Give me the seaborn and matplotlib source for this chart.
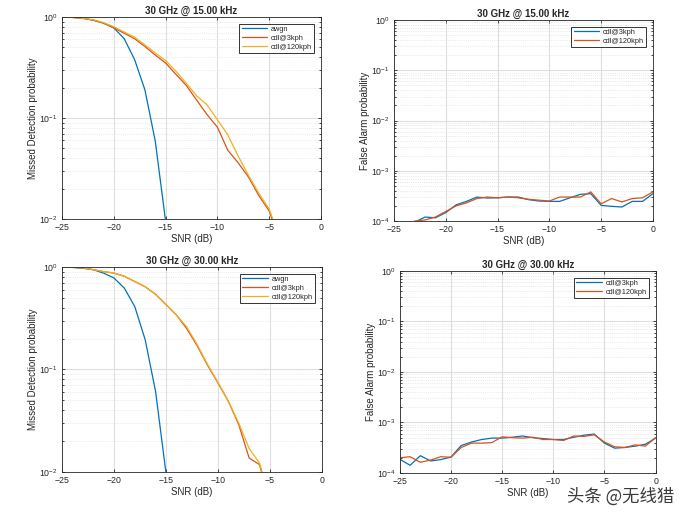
import numpy as np
import pandas as pd
import matplotlib
matplotlib.use("Agg")
import matplotlib.pyplot as plt
import seaborn as sns

# SNR axis (dB)
snr = list(range(-25, 1))

# Missed detection, 15 kHz
md15_snr = list(range(-25, -3))
md15_awgn = [1.0, 0.99, 0.97, 0.93, 0.87, 0.78, 0.61, 0.38, 0.19, 0.059, 0.0095,
             None, None, None, None, None, None, None, None, None, None, None]
md15_3kph = [1.0, 0.99, 0.97, 0.93, 0.87, 0.78, 0.69, 0.61, 0.51, 0.42, 0.35,
             0.27, 0.21, 0.15, 0.108, 0.081, 0.048, 0.036, 0.026, 0.017, 0.012, 0.006]
md15_120kph = [1.0, 0.99, 0.97, 0.94, 0.88, 0.80, 0.71, 0.63, 0.53, 0.44, 0.37,
               0.29, 0.22, 0.165, 0.135, 0.096, 0.068, 0.042, 0.027, 0.018, 0.0125, 0.0065]

# Missed detection, 30 kHz
md30_snr = list(range(-25, -4))
md30_awgn = [1.0, 0.99, 0.97, 0.94, 0.87, 0.78, 0.62, 0.41, 0.195, 0.061, 0.0098,
             None, None, None, None, None, None, None, None, None, None]
md30_3kph = [1.0, 0.99, 0.98, 0.94, 0.90, 0.87, 0.81, 0.72, 0.64, 0.54, 0.43,
             0.34, 0.25, 0.17, 0.11, 0.074, 0.049, 0.029, 0.0137, 0.0118, 0.005]
md30_120kph = [1.0, 0.99, 0.98, 0.94, 0.90, 0.87, 0.81, 0.72, 0.64, 0.54, 0.43,
               0.34, 0.26, 0.175, 0.112, 0.075, 0.049, 0.03, 0.017, 0.0122, 0.0055]

# False alarm, 15 kHz
fa15_3kph = [7e-5, 8e-5, 9.5e-5, 1.2e-4, 1.16e-4, 1.47e-4, 2.1e-4, 2.46e-4, 3.0e-4,
             2.87e-4, 2.9e-4, 3.0e-4, 3.0e-4, 2.66e-4, 2.5e-4, 2.46e-4, 2.46e-4,
             2.9e-4, 3.4e-4, 3.5e-4, 2.05e-4, 1.96e-4, 1.9e-4, 2.46e-4, 2.46e-4, 3.5e-4]
fa15_120kph = [6e-5, 7e-5, 1.0e-4, 1.05e-4, 1.2e-4, 1.55e-4, 2.0e-4, 2.3e-4, 2.8e-4,
               3.0e-4, 2.9e-4, 3.0e-4, 2.9e-4, 2.7e-4, 2.6e-4, 2.5e-4, 3.0e-4,
               3.0e-4, 3.0e-4, 3.8e-4, 2.2e-4, 2.8e-4, 2.4e-4, 2.8e-4, 2.9e-4, 3.8e-4]

# False alarm, 30 kHz
fa30_3kph = [1.87e-4, 1.42e-4, 2.2e-4, 1.73e-4, 1.84e-4, 2.07e-4, 3.5e-4, 4.1e-4, 4.6e-4,
             4.9e-4, 4.9e-4, 5.1e-4, 5.4e-4, 5.0e-4, 4.8e-4, 4.6e-4, 4.6e-4,
             5.1e-4, 5.6e-4, 5.9e-4, 3.9e-4, 3.1e-4, 3.2e-4, 3.4e-4, 3.7e-4, 4.9e-4]
fa30_120kph = [2.0e-4, 2.1e-4, 1.63e-4, 1.8e-4, 2.1e-4, 2.05e-4, 3.2e-4, 3.9e-4, 3.9e-4,
               4.0e-4, 5.2e-4, 5.0e-4, 4.9e-4, 5.1e-4, 4.6e-4, 4.6e-4, 4.4e-4,
               5.4e-4, 5.3e-4, 5.7e-4, 4.1e-4, 3.3e-4, 3.2e-4, 3.6e-4, 3.4e-4, 5.0e-4]

blue, orange, yellow = "#0072BD", "#D95319", "#EDB120"

sns.set_style("ticks")
plt.rcParams["font.family"] = ["Liberation Sans", "DejaVu Sans"]
plt.rcParams["mathtext.fontset"] = "custom"
plt.rcParams["mathtext.rm"] = "Liberation Sans"

fig = plt.figure(figsize=(6.93, 5.14), dpi=100)


def long_df(x, series):
    rows = []
    for name, vals in series.items():
        for xi, v in zip(x, vals):
            if v is not None:
                rows.append({"snr": xi, "p": v, "series": name})
    return pd.DataFrame(rows)


def panel(rect, x, series, colors, title, ylabel, ylim):
    ax = fig.add_axes(rect)
    df = long_df(x, series)
    sns.lineplot(data=df, x="snr", y="p", hue="series", palette=colors,
                 linewidth=0.9, ax=ax)
    ax.set_yscale("log")
    ax.set_xlim(-25, 0)
    ax.set_ylim(*ylim)
    ax.set_xticks([-25, -20, -15, -10, -5, 0])
    ax.grid(True, which="major", color="#dedede", linewidth=0.8)
    ax.grid(True, which="minor", color="#d9d9d9", linewidth=0.5, linestyle=":")
    ax.tick_params(which="both", direction="in", top=True, right=True,
                   labelsize=6.3, length=2.5, width=0.6)
    ax.tick_params(axis="x", pad=3)
    ax.tick_params(axis="y", pad=3)
    ax.tick_params(which="minor", length=1.5)
    for s in ax.spines.values():
        s.set_linewidth(0.6)
        s.set_color("#262626")
    ax.set_title(title, fontsize=7, fontweight="bold", pad=2)
    ax.set_xlabel("SNR (dB)", fontsize=7, labelpad=1)
    ax.set_ylabel(ylabel, fontsize=7, labelpad=1)
    leg = ax.legend(loc="upper right", fontsize=5.3, frameon=True, fancybox=False,
                    handlelength=3.5, borderpad=0.3, labelspacing=0.25,
                    handletextpad=0.5, borderaxespad=0.9)
    leg.get_frame().set_edgecolor("black")
    leg.get_frame().set_linewidth(0.7)
    return ax


panel([0.0895, 0.574, 0.3737, 0.393], md15_snr,
      {"awgn": md15_awgn, "cdl@3kph": md15_3kph, "cdl@120kph": md15_120kph},
      [blue, orange, yellow], "30 GHz @ 15.00 kHz",
      "Missed Detection probability", (1e-2, 1))

panel([0.5685, 0.570, 0.3737, 0.391], snr,
      {"cdl@3kph": fa15_3kph, "cdl@120kph": fa15_120kph},
      [blue, orange], "30 GHz @ 15.00 kHz",
      "False Alarm probability", (1e-4, 1))

panel([0.0895, 0.0817, 0.375, 0.399], md30_snr,
      {"awgn": md30_awgn, "cdl@3kph": md30_3kph, "cdl@120kph": md30_120kph},
      [blue, orange, yellow], "30 GHz @ 30.00 kHz",
      "Missed Detection probability", (1e-2, 1))

panel([0.577, 0.0798, 0.369, 0.393], snr,
      {"cdl@3kph": fa30_3kph, "cdl@120kph": fa30_120kph},
      [blue, orange], "30 GHz @ 30.00 kHz",
      "False Alarm probability", (1e-4, 1))

fig.text(0.818, 0.033, "头条 @无线猎", fontsize=12.5, color="#3a3a3a",
         family=["Noto Sans CJK SC", "DejaVu Sans"], ha="left", va="center")

fig.savefig("out.png", dpi=100)
